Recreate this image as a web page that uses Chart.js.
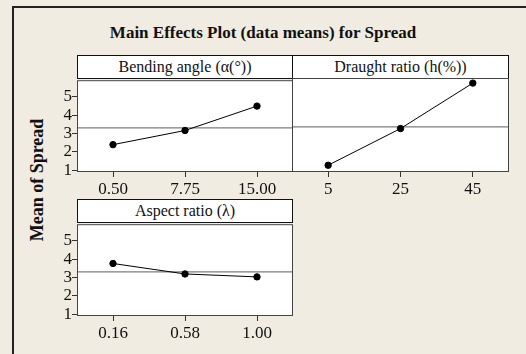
<!DOCTYPE html>
<html>
<head>
<meta charset="utf-8">
<script src="https://cdn.jsdelivr.net/npm/chart.js@4"></script>
<style>
  body { margin: 0; width: 526px; height: 354px; overflow: hidden; background: #f0ece2; position: relative; font-family: "Liberation Serif", serif; }
  .frame { position: absolute; left: 12px; top: 6px; width: 600px; height: 400px; border-left: 2px solid #222; border-top: 2px solid #222; }
  .title { position: absolute; left: 0; width: 526px; top: 23px; text-align: center; font-weight: bold; font-size: 17px; color: #111; }
  .ylabel { position: absolute; left: 37px; top: 180px; transform: translate(-50%, -50%) rotate(-90deg); font-weight: bold; font-size: 18px; white-space: nowrap; color: #111; }
  .head { position: absolute; line-height: 22px; background: #fff; border: 1px solid #111; box-sizing: border-box; height: 24px; text-align: center; font-size: 16px; color: #111; }
  .panel { position: absolute; }
</style>
</head>
<body>
<div class="frame"></div>
<div class="title" id="title"></div>
<div class="ylabel" id="ylabel"></div>
<div class="head" id="h1" style="left:77px; top:55px; width:216px;"></div>
<div class="head" id="h2" style="left:292px; top:55px; width:217px;"></div>
<div class="head" id="h3" style="left:77px; top:199px; width:216px;"></div>
<canvas class="panel" id="p1" width="253" height="130" style="left:40px; top:70px;"></canvas>
<canvas class="panel" id="p2" width="217" height="130" style="left:292px; top:70px;"></canvas>
<canvas class="panel" id="p3" width="253" height="130" style="left:40px; top:214px;"></canvas>
<script>
const chartTitle = "Main Effects Plot (data means) for Spread";
const yTitle = "Mean of Spread";
const factorNames = ["Bending angle (α(°))", "Draught ratio (h(%))", "Aspect ratio (λ)"];

const bendingLevels = ["0.50", "7.75", "15.00"];
const bendingMeans = [2.39, 3.16, 4.49];
const draughtLevels = ["5", "25", "45"];
const draughtMeans = [1.26, 3.21, 5.63];
const aspectLevels = ["0.16", "0.58", "1.00"];
const aspectMeans = [3.76, 3.19, 3.03];

const grandMean = 3.3;
const yTicks = [1, 2, 3, 4, 5];

document.getElementById("title").textContent = chartTitle;
document.getElementById("ylabel").textContent = yTitle;
document.getElementById("h1").textContent = factorNames[0];
document.getElementById("h2").textContent = factorNames[1];
document.getElementById("h3").textContent = factorNames[2];

const tickFont = { family: "Liberation Serif", size: 17 };

// white plot area with a box round it
const frameBox = {
    id: "frameBox",
    beforeDraw(chart) {
        const a = chart.chartArea;
        chart.ctx.save();
        chart.ctx.fillStyle = "#fff";
        chart.ctx.fillRect(a.left, a.top, a.right - a.left, a.bottom - a.top);
        chart.ctx.restore();
    },
    afterDraw(chart) {
        const a = chart.chartArea;
        const ctx = chart.ctx;
        ctx.save();
        ctx.strokeStyle = "#444";
        ctx.lineWidth = 1;
        ctx.strokeRect(a.left + 0.5, a.top + 0.5, a.right - a.left - 1, a.bottom - a.top - 1);
        ctx.restore();
    }
};

const makePanel = (id, levels, means, showY) => {
    const ctx = document.getElementById(id).getContext("2d");
    return new Chart(ctx, {
        type: "line",
        data: {
            datasets: [
                {
                    data: means.map((v, i) => ({ x: i, y: v })),
                    borderColor: "#000",
                    backgroundColor: "#000",
                    borderWidth: 1,
                    pointRadius: 3.2,
                    pointHoverRadius: 3.2,
                },
                {
                    data: [{ x: -0.5, y: grandMean }, { x: levels.length - 0.5, y: grandMean }],
                    borderColor: "#7c7c7c",
                    borderWidth: 1.2,
                    pointRadius: 0,
                },
            ],
        },
        options: {
            responsive: false,
            animation: false,
            events: [],
            layout: { autoPadding: false, padding: { top: 8, right: 0, left: 0, bottom: 0 } },
            plugins: { legend: { display: false }, tooltip: { enabled: false } },
            scales: {
                x: {
                    type: "linear",
                    min: -0.5,
                    max: levels.length - 0.5,
                    afterBuildTicks: (s) => { s.ticks = levels.map((_, i) => ({ value: i })); },
                    afterFit: (s) => { s.height = 28; },
                    ticks: { callback: (v) => levels[v], font: tickFont, color: "#111", padding: 2, maxRotation: 0, autoSkip: false },
                    grid: { drawOnChartArea: false, tickLength: 5, color: "#333" },
                    border: { display: false },
                },
                y: {
                    display: showY,
                    min: 0.9,
                    max: 5.9,
                    afterBuildTicks: (s) => { s.ticks = yTicks.map((v) => ({ value: v })); },
                    afterFit: (s) => { s.width = showY ? 37 : 0; },
                    ticks: { font: tickFont, color: "#111", padding: 0, autoSkip: false },
                    grid: { drawOnChartArea: false, tickLength: 5, color: "#333" },
                    border: { display: false },
                },
            },
        },
        plugins: [frameBox],
    });
};

makePanel("p1", bendingLevels, bendingMeans, true);
makePanel("p2", draughtLevels, draughtMeans, false);
makePanel("p3", aspectLevels, aspectMeans, true);
</script>
</body>
</html>
